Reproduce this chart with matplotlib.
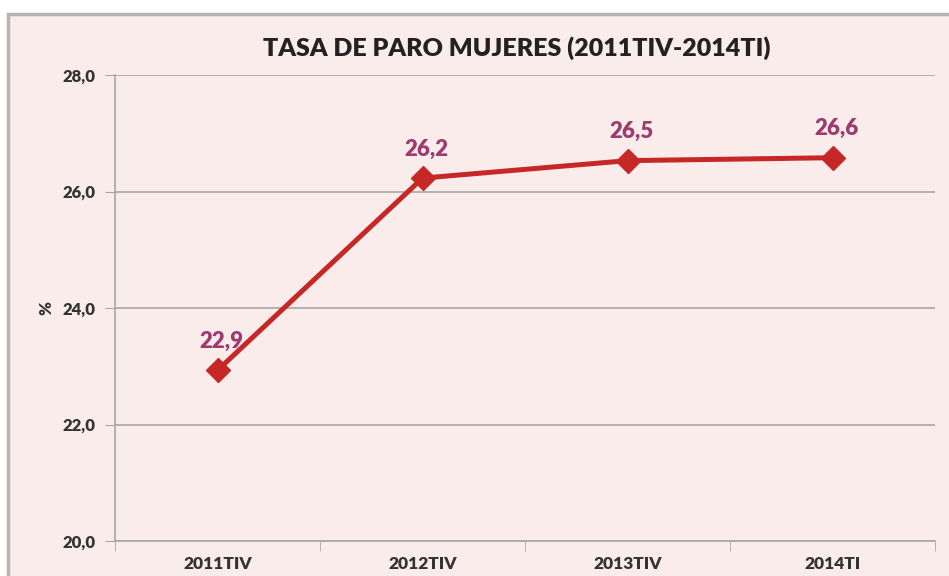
import matplotlib

matplotlib.use("Agg")
import matplotlib.pyplot as plt
from matplotlib.patches import Rectangle

# data
periods = ["2011TIV", "2012TIV", "2013TIV", "2014TI"]
tasa = [22.93, 26.23, 26.53, 26.58]
y_ticks = [20.0, 22.0, 24.0, 26.0, 28.0]

BG = "#FBECEC"
LINE = "#C62828"
LABEL = "#9C3B6E"
TEXT = "#333333"
GRID = "#A6A6A6"

plt.rcParams["font.family"] = ["Lato", "DejaVu Sans"]

fig = plt.figure(figsize=(9.49, 5.76), dpi=100)
fig.patch.set_facecolor("white")

# chart frame (cut off at right and bottom like the screenshot)
frame = Rectangle((8 / 949, -0.05), 1.0, 1 - 14 / 576 + 0.05,
                  transform=fig.transFigure, facecolor=BG,
                  edgecolor="#B5B5B5", lw=2.5, zorder=-10)
fig.patches.append(frame)

ax = fig.add_axes([115 / 949, 1 - 541 / 576, 820 / 949, 466 / 576])
ax.set_facecolor("none")

x = list(range(len(periods)))
ax.plot(x, tasa, color=LINE, lw=3.6, marker="D", markersize=12,
        markerfacecolor=LINE, markeredgecolor=LINE, zorder=3,
        clip_on=False)

for xi, v in zip(x, tasa):
    ax.annotate(f"{v:.1f}".replace(".", ","), (xi, v),
                xytext=(3, 21), textcoords="offset points",
                ha="center", va="center", fontsize=16, fontweight="heavy",
                color=LABEL)

ax.set_xlim(-0.5, len(periods) - 0.5)
ax.set_ylim(20, 28)
ax.set_yticks(y_ticks)
ax.set_yticklabels([f"{t:.1f}".replace(".", ",") for t in y_ticks])
ax.set_xticks(x)
ax.set_xticklabels(periods)
ax.set_xticks([i + 0.5 for i in range(-1, len(periods))], minor=True)

ax.grid(axis="y", color=GRID, lw=1.2)
ax.set_axisbelow(True)
for s in ["top", "right"]:
    ax.spines[s].set_visible(False)
for s in ["left", "bottom"]:
    ax.spines[s].set_color(GRID)
    ax.spines[s].set_linewidth(1.2)

ax.tick_params(axis="y", length=7, color=GRID, labelsize=12,
               labelcolor=TEXT, pad=7)
ax.tick_params(axis="x", which="major", length=0, labelsize=12.5,
               labelcolor=TEXT, pad=11)
ax.tick_params(axis="x", which="minor", length=7, color=GRID)
for lab in ax.get_xticklabels() + ax.get_yticklabels():
    lab.set_fontweight("heavy")

ax.set_ylabel("%", fontsize=12, fontweight="heavy", color=TEXT, labelpad=6)

fig.text(517 / 949, 1 - 48 / 576, "TASA DE PARO MUJERES (2011TIV-2014TI)",
         ha="center", va="center", fontsize=18, fontweight="heavy", color="#222222")

fig.savefig("out.png", dpi=100, facecolor=fig.get_facecolor())
